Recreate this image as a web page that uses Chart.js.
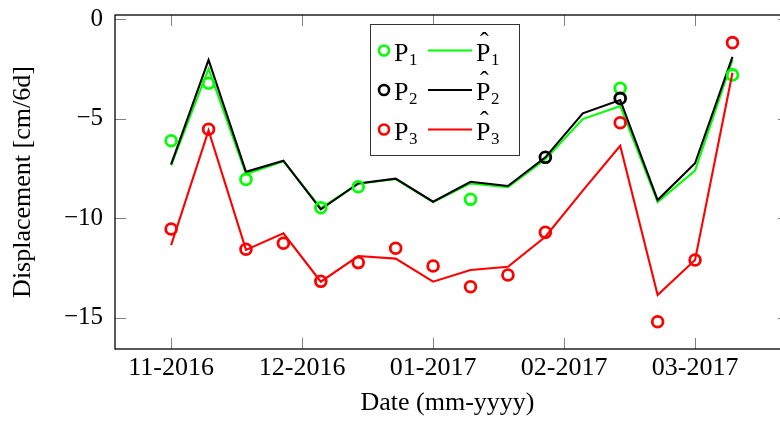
<!DOCTYPE html>
<html><head><meta charset="utf-8">
<script src="https://cdn.jsdelivr.net/npm/chart.js@4"></script>
<style>html,body{margin:0;padding:0;background:#fff}#wrap{width:780px;height:423px;position:relative}</style>
</head><body><div id="wrap"><canvas id="c" width="780" height="423"></canvas></div>
<script>
// ---- data ----
const samples = [0,1,2,3,4,5,6,7,8,9,10,11,12,13,14,15];
const p1Obs = [-6.12,-3.23,-8.06,null,-9.48,-8.43,null,null,-9.06,null,null,null,-3.48,null,null,-2.81];
const p2Obs = [null,null,null,null,null,null,null,null,null,null,-6.95,null,-3.99,null,null,null];
const p3Obs = [-10.55,-5.54,-11.57,-11.27,-13.18,-12.24,-11.52,-12.41,-13.45,-12.86,-10.72,null,-5.21,-15.21,-12.11,-1.19];
const p1Fit = [-7.35,-2.5,-7.8,-7.15,-9.5,-8.28,-8.04,-9.2,-8.26,-8.45,-7.05,-5.03,-4.37,-9.2,-7.62,-2.06];
const p2Fit = [-7.3,-2.06,-7.68,-7.12,-9.56,-8.26,-8.02,-9.18,-8.18,-8.39,-6.95,-4.74,-4.07,-9.1,-7.25,-1.9];
const p3Fit = [-11.36,-5.6,-11.6,-10.77,-13.2,-11.91,-12.04,-13.2,-12.61,-12.45,-10.94,-8.62,-6.37,-13.87,-12.11,-2.7];
const xTickPos = [0,3.5,7,10.5,14];
const xTickLabels = ['11-2016','12-2016','01-2017','02-2017','03-2017'];
const yTickVals = [0,-5,-10,-15];
const legendRows = [
  {color:'#00ff00', sub:'1'},
  {color:'#000000', sub:'2'},
  {color:'#ff0000', sub:'3'}
];

const GREEN='#00ff00', BLACK='#000000', RED='#ff0000';
const SERIF='"Liberation Serif", "Times New Roman", serif';
const pts = arr => samples.map((x,i)=>({x:x, y:arr[i]}));

function lineDs(arr,color,order){
  return {data:pts(arr), borderColor:color, borderWidth:2.1, pointRadius:0, fill:false, tension:0, order:order, spanGaps:true};
}
function obsDs(arr,color,order){
  return {data:pts(arr), showLine:false, borderColor:color, backgroundColor:'rgba(0,0,0,0)', pointStyle:'circle', pointRadius:5.4, pointBorderWidth:2.8, pointBorderColor:color, pointBackgroundColor:'rgba(0,0,0,0)', order:order};
}

const framePlugin = {
  id:'frame',
  afterDraw(chart){
    const {ctx, chartArea:a, scales:{x,y}} = chart;
    const rightEdge = a.right + 9; // the axis frame continues past the canvas edge
    ctx.save();
    ctx.strokeStyle='#808080'; ctx.lineWidth=1;
    ctx.beginPath();
    yTickVals.forEach(v=>{
      const py=Math.round(y.getPixelForValue(v))+0.5;
      ctx.moveTo(a.left,py); ctx.lineTo(a.left+11,py);
      ctx.moveTo(rightEdge,py); ctx.lineTo(rightEdge-11,py);
    });
    xTickPos.forEach(v=>{
      const px=Math.round(x.getPixelForValue(v))+0.5;
      ctx.moveTo(px,a.bottom); ctx.lineTo(px,a.bottom-11);
      ctx.moveTo(px,a.top); ctx.lineTo(px,a.top+11);
    });
    ctx.stroke();
    ctx.strokeStyle='#000'; ctx.lineWidth=1.3;
    ctx.strokeRect(a.left,a.top,rightEdge-a.left,a.bottom-a.top);

    // legend
    const L={x:370.5,y:24.5,w:149,h:131};
    ctx.fillStyle='#fff'; ctx.fillRect(L.x,L.y,L.w,L.h);
    ctx.strokeStyle='#333'; ctx.lineWidth=1; ctx.strokeRect(L.x,L.y,L.w,L.h);
    const rowY=[50.5,90,129.5];
    legendRows.forEach((r,i)=>{
      const yc=rowY[i];
      ctx.strokeStyle=r.color; ctx.lineWidth=2.6;
      ctx.beginPath(); ctx.arc(384,yc,5,0,Math.PI*2); ctx.stroke();
      ctx.fillStyle='#000'; ctx.textAlign='left'; ctx.textBaseline='alphabetic';
      ctx.font='26px '+SERIF;
      ctx.fillText('P',394,yc+10);
      const pw=ctx.measureText('P').width;
      ctx.font='17px '+SERIF;
      ctx.fillText(r.sub,394+pw+0.5,yc+14);
      ctx.strokeStyle=r.color; ctx.lineWidth=2;
      ctx.beginPath(); ctx.moveTo(428,yc); ctx.lineTo(472,yc); ctx.stroke();
      ctx.font='26px '+SERIF;
      ctx.fillText('P',476,yc+10);
      ctx.textAlign='center';
      ctx.fillText('\u02C6',476+pw/2+1,yc-1);
      ctx.textAlign='left';
      ctx.font='17px '+SERIF;
      ctx.fillText(r.sub,476+pw+0.5,yc+14);
    });
    ctx.restore();
  }
};

new Chart(document.getElementById('c'),{
  type:'line',
  data:{datasets:[
    lineDs(p1Fit,GREEN,6),
    lineDs(p2Fit,BLACK,5),
    obsDs(p1Obs,GREEN,4),
    obsDs(p2Obs,BLACK,3),
    lineDs(p3Fit,RED,2),
    obsDs(p3Obs,RED,1)
  ]},
  options:{
    responsive:false, animation:false, devicePixelRatio:1,
    layout:{autoPadding:false, padding:{top:15,right:0,left:0,bottom:0}},
    plugins:{legend:{display:false}, tooltip:{enabled:false}},
    scales:{
      x:{type:'linear', min:-1.5, max:16.27,
        afterBuildTicks:s=>{s.ticks=xTickPos.map(v=>({value:v}));},
        ticks:{autoSkip:false, maxRotation:0, padding:4, color:'#000', font:{family:SERIF,size:26},
          callback:(v,i)=>xTickLabels[i]},
        grid:{display:false, drawTicks:false}, border:{display:false},
        title:{display:true, text:'Date (mm-yyyy)', color:'#000', font:{family:SERIF,size:26}, padding:{top:0,bottom:4.5}},
        afterFit:s=>{s.height=74; s.paddingLeft=0; s.paddingRight=0; s.paddingTop=0; s.paddingBottom=0;}
      },
      y:{type:'linear', min:-16.58, max:0.2,
        afterBuildTicks:s=>{s.ticks=yTickVals.map(v=>({value:v}));},
        ticks:{padding:12, color:'#000', font:{family:SERIF,size:25},
          callback:v=> v<0 ? '\u2212'+Math.abs(v) : String(v)},
        grid:{display:false, drawTicks:false}, border:{display:false},
        title:{display:true, text:'Displacement [cm/6d]', color:'#000', font:{family:SERIF,size:26}, padding:{top:7.4,bottom:0}},
        afterFit:s=>{s.width=115; s.paddingTop=0; s.paddingBottom=0; s.paddingLeft=0; s.paddingRight=0;}
      }
    }
  },
  plugins:[framePlugin]
});
</script></body></html>
